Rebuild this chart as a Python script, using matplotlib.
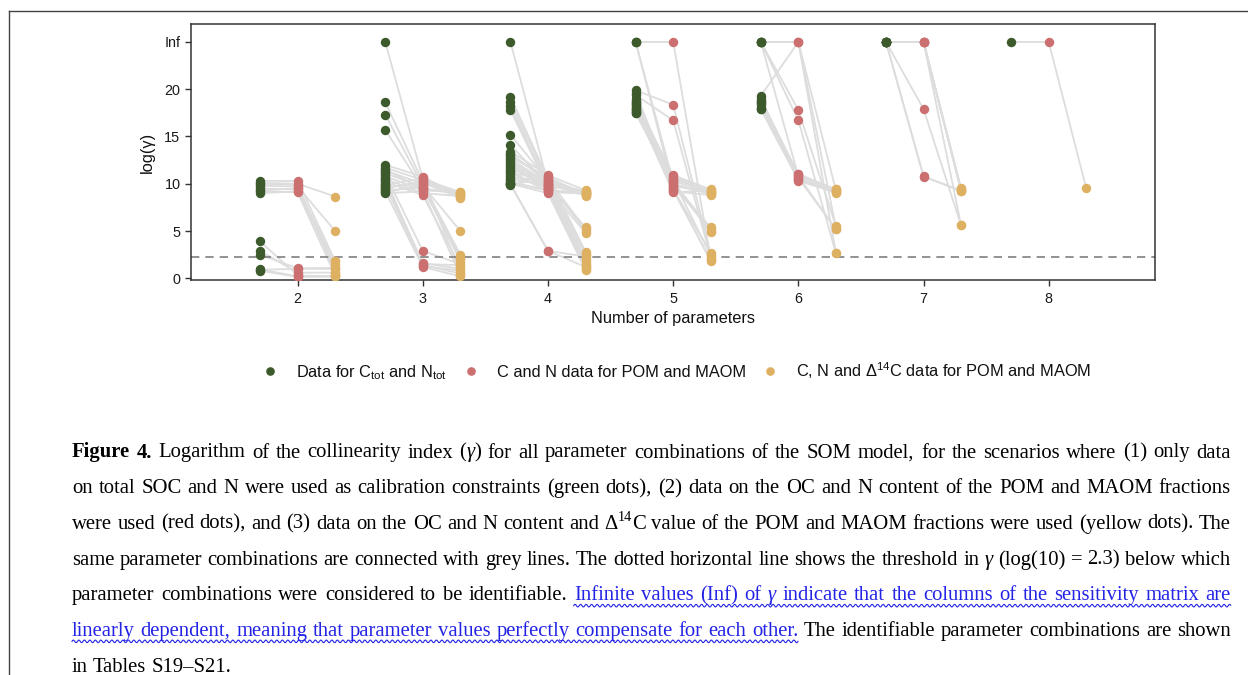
import matplotlib
matplotlib.use('Agg')
import matplotlib.pyplot as plt
import numpy as np
from matplotlib.lines import Line2D
from matplotlib.transforms import IdentityTransform

# ---------------- data (log(gamma); Inf shown at 25) ----------------
n_params = [2, 3, 4, 5, 6, 7, 8]
INF = 25

g2 = [10.3, 10.1, 9.8, 9.5, 9.2, 9.0, 10.0, 9.3, 3.9, 2.9, 2.5, 0.95, 0.8, 0.9]
r2 = [10.3, 10.0, 9.7, 9.4, 9.1, 9.2, 9.9, 9.5, 0.3, 0.6, 1.05, 0.2, 0.15, 1.0]
y2 = [1.8, 8.65, 5.0, 1.0, 0.3, 1.4, 0.6, 1.8, 0.2, 0.6, 1.1, 0.2, 0.2, 1.0]

g3 = [25, 18.6, 17.3, 15.7, 12.0, 11.7, 11.4, 11.1, 10.8, 10.5, 10.2, 9.9, 9.6, 9.3, 9.0, 11.0, 10.4, 9.8, 9.2, 10.0, 10.6, 9.5, 11.5, 9.1]
r3 = [10.5, 10.2, 9.8, 9.5, 10.75, 10.4, 10.0, 9.7, 9.3, 9.0, 8.8, 10.6, 10.1, 9.6, 9.2, 2.9, 1.6, 1.4, 1.2, 1.5, 1.3, 10.3, 9.4, 9.9]
y3 = [9.1, 8.8, 5.0, 9.0, 8.6, 8.9, 2.5, 1.8, 9.1, 8.7, 1.2, 0.6, 8.5, 2.0, 0.3, 1.5, 1.0, 0.5, 0.2, 1.4, 0.8, 8.8, 9.0, 2.2]

g4 = [25, 19.2, 18.7, 18.2, 17.8, 15.2, 14.1, 13.4, 13.0, 12.6, 12.2, 11.8, 11.4, 11.0, 10.6, 10.2, 9.9, 12.8, 12.0, 11.2, 10.4, 10.0, 13.2, 11.6, 10.8, 10.1, 9.95, 12.4, 10.0]
r4 = [10.0, 10.5, 10.2, 9.8, 9.6, 10.3, 9.9, 10.9, 10.6, 10.1, 9.7, 9.4, 9.1, 10.8, 10.4, 9.3, 2.9, 10.7, 9.5, 9.2, 10.0, 9.0, 10.2, 9.8, 9.6, 9.3, 10.5, 9.9, 2.9]
y4 = [9.2, 9.0, 8.8, 5.4, 2.5, 9.1, 8.9, 9.3, 8.7, 5.0, 2.0, 1.2, 9.0, 2.8, 1.5, 9.1, 2.3, 8.8, 4.8, 1.0, 9.2, 0.9, 2.6, 9.0, 1.8, 8.9, 5.2, 1.4, 1.2]

g5 = [25, 25, 25, 19.9, 19.4, 18.8, 18.3, 17.8, 17.5, 19.6, 18.6, 18.0, 17.6, 19.0, 18.4, 17.9, 17.7, 18.1, 18.5, 17.5]
r5 = [25, 10.2, 9.5, 18.35, 16.7, 10.9, 10.6, 10.3, 10.0, 9.7, 9.4, 9.1, 10.8, 10.1, 9.8, 9.3, 10.5, 9.2, 10.4, 9.9]
y5 = [2.0, 5.2, 1.8, 2.5, 2.2, 9.4, 9.2, 9.0, 8.9, 5.4, 2.7, 9.3, 9.1, 4.9, 9.0, 1.9, 9.2, 8.8, 2.4, 5.0]

g6 = [25, 25, 25, 25, 19.3, 18.8, 18.3, 17.9, 19.0, 18.5, 18.0, 17.9, 18.6, 25]
r6 = [25, 17.8, 16.7, 10.8, 25, 11.0, 10.7, 10.4, 10.9, 10.6, 10.5, 11.0, 10.3, 25]
y6 = [9.3, 5.5, 2.65, 5.2, 5.4, 9.4, 9.1, 9.2, 9.3, 5.2, 9.0, 9.4, 9.1, 2.7]

g7 = [25, 25, 25, 25, 25, 25, 25, 25]
r7 = [25, 25, 25, 25, 25, 17.9, 10.75, 10.8]
y7 = [9.4, 9.2, 5.6, 9.5, 9.3, 5.6, 9.3, 9.2]

g8 = [25]
r8 = [25]
y8 = [9.5]

threshold = 2.3
y_ticks = [0, 5, 10, 15, 20, 25]
y_ticklabels = ['0', '5', '10', '15', '20', 'Inf']
legend_labels = ['Data for C$_{\\mathrm{tot}}$ and N$_{\\mathrm{tot}}$',
                 'C and N data for POM and MAOM',
                 'C, N and \u0394$^{\\mathrm{14}}$C data for POM and MAOM']

groups = [(2, g2, r2, y2), (3, g3, r3, y3), (4, g4, r4, y4), (5, g5, r5, y5),
          (6, g6, r6, y6), (7, g7, r7, y7), (8, g8, r8, y8)]

# ---------------- style ----------------
plt.rcParams['font.family'] = ['Liberation Sans', 'DejaVu Sans']
plt.rcParams['mathtext.fontset'] = 'custom'
plt.rcParams['mathtext.rm'] = 'Liberation Sans'
plt.rcParams['mathtext.it'] = 'Liberation Sans:italic'
plt.rcParams['mathtext.bf'] = 'Liberation Sans:bold'

GREEN = '#3C5A2C'
RED = '#CB6F70'
YELLOW = '#DDB062'
LINEC = '#DDDDDD'
FRAME = '#333333'

W, H = 1248, 675
fig = plt.figure(figsize=(W / 100, H / 100), dpi=100)

ax = fig.add_axes([191 / W, 1 - 280 / H, (1155 - 191) / W, (280 - 24) / H])
ax.set_xlim(1.148, 8.849)
ax.set_ylim(-0.18, 26.9)

off = 0.3
for n, g, r, yv in groups:
    for a, b, c in zip(g, r, yv):
        ax.plot([n - off, n, n + off], [a, b, c], color=LINEC, lw=1.3, zorder=1,
                solid_capstyle='round')
ax.axhline(threshold, color='#7F7F7F', lw=1.2, ls=(0, (5.0, 3.6)), zorder=1.5)
for n, g, r, yv in groups:
    ax.scatter([n - off] * len(g), g, s=46, color=GREEN, zorder=3, linewidths=0)
    ax.scatter([n] * len(r), r, s=46, color=RED, zorder=3, linewidths=0)
    ax.scatter([n + off] * len(yv), yv, s=46, color=YELLOW, zorder=3, linewidths=0)

ax.set_xticks(n_params)
ax.set_xticklabels([str(v) for v in n_params])
ax.set_yticks(y_ticks)
ax.set_yticklabels(y_ticklabels)
for s in ax.spines.values():
    s.set_color(FRAME)
    s.set_linewidth(1.1)
ax.tick_params(axis='both', direction='out', length=4, width=1.0, color=FRAME,
               labelsize=10.4, labelcolor='#1a1a1a')
ax.tick_params(axis='y', pad=3.6)
ax.tick_params(axis='x', pad=4.5)
ax.set_xlabel('Number of parameters', fontsize=11.8, labelpad=4, color='#111111')
ax.set_ylabel('log(\u03b3)', fontsize=11.8, labelpad=7, color='#111111')

handles = [Line2D([], [], marker='o', ls='none', color=c, markersize=6.2, markeredgewidth=0)
           for c in (GREEN, RED, YELLOW)]
leg = ax.legend(handles, legend_labels, loc='center', ncol=3, frameon=False,
                bbox_to_anchor=(676.5 / W, 1 - 371 / H), bbox_transform=fig.transFigure,
                fontsize=11.8, handlelength=1.0, handletextpad=1.08, columnspacing=0.95,
                borderaxespad=0, borderpad=0)
for t in leg.get_texts():
    t.set_color('#111111')

# ---------------- outer page border ----------------
fig.add_artist(Line2D([9, 9], [0, H - 11], transform=IdentityTransform(), color='#444444', lw=1.0))
fig.add_artist(Line2D([9, W], [H - 11, H - 11], transform=IdentityTransform(), color='#444444', lw=1.0))

# ---------------- caption (justified serif text) ----------------
SERIF = 'Liberation Serif'
CAP_SIZE = 14.9
BLUE = '#2323E6'
caption_lines = [
    "*Figure* *4.* Logarithm of the collinearity index (\u03b3) for all parameter combinations of the SOM model, for the scenarios where (1) only data",
    "on total SOC and N were used as calibration constraints (green dots), (2) data on the OC and N content of the POM and MAOM fractions",
    "were used (red dots), and (3) data on the OC and N content and \u039414C value of the POM and MAOM fractions were used (yellow dots). The",
    "same parameter combinations are connected with grey lines. The dotted horizontal line shows the threshold in \u03b3 (log(10) = 2.3) below which",
    "parameter combinations were considered to be identifiable. {Infinite values (Inf) of \u03b3 indicate that the columns of the sensitivity matrix are}",
    "{linearly dependent, meaning that parameter values perfectly compensate for each other.} The identifiable parameter combinations are shown",
    "in Tables S19\u2013S21.",
]
X0, X1 = 72, 1231
BASE0, LSTEP = 457.5, 35.67

renderer = fig.canvas.get_renderer()


def seg_text(txt, bold, italic, blue, sup):
    t = fig.text(0, 0, txt, transform=IdentityTransform(), ha='left', va='baseline',
                 family=SERIF, size=CAP_SIZE * (0.68 if sup else 1.0),
                 weight='bold' if bold else 'normal', style='italic' if italic else 'normal',
                 color=BLUE if blue else 'black')
    w = t.get_window_extent(renderer).width
    return [t, w, sup]


def split_word(word):
    parts = []
    if '\u039414C' in word:
        a, b = word.split('\u039414C')
        if a:
            parts.append((a, False, False))
        parts += [('\u0394', False, False), ('14', False, True), ('C', False, False)]
        if b:
            parts.append((b, False, False))
        return parts
    if '\u03b3' in word:
        pieces = word.split('\u03b3')
        for i, p in enumerate(pieces):
            if p:
                parts.append((p, False, False))
            if i < len(pieces) - 1:
                parts.append(('\u03b3', True, False))
        return parts
    return [(word, False, False)]


tmp = fig.text(0, 0, 'n n', family=SERIF, size=CAP_SIZE, transform=IdentityTransform())
tmp2 = fig.text(0, 0, 'nn', family=SERIF, size=CAP_SIZE, transform=IdentityTransform())
space_w = tmp.get_window_extent(renderer).width - tmp2.get_window_extent(renderer).width
tmp.remove()
tmp2.remove()

blue_on = False
for li, line in enumerate(caption_lines):
    base_y = H - (BASE0 + LSTEP * li)
    words = []
    for raw in line.split(' '):
        w = raw
        end_blue = False
        if w.startswith('{'):
            blue_on = True
            w = w[1:]
        if w.endswith('}'):
            end_blue = True
            w = w[:-1]
        bold = False
        if w.startswith('*') and w.endswith('*') and len(w) > 1:
            bold = True
            w = w[1:-1]
        segs = []
        for txt, ital, sup in split_word(w):
            segs.append(seg_text(txt, bold, ital, blue_on, sup))
        words.append((segs, blue_on))
        if end_blue:
            blue_on = False
    widths = [sum(s[1] for s in segs) for segs, _ in words]
    last = (li == len(caption_lines) - 1)
    if last or len(words) < 2:
        gap = space_w
    else:
        gap = (X1 - X0 - sum(widths)) / (len(words) - 1)
    x = X0
    blue_spans = []
    for (segs, isblue), wd in zip(words, widths):
        sx = x
        for t, w_, sup in segs:
            dy = CAP_SIZE * 0.36 * 100 / 72 if sup else 0
            t.set_position((sx, base_y + dy))
            sx += w_
        if isblue:
            blue_spans.append((x, x + wd))
        x += wd + gap
    if blue_spans:
        xa, xb = blue_spans[0][0], blue_spans[-1][1]
        xs = np.arange(xa, xb, 0.5)
        ys = base_y - 5.5 + 1.3 * np.sin(2 * np.pi * (xs - xa) / 5.5)
        fig.add_artist(Line2D(xs, ys, transform=IdentityTransform(), color=BLUE, lw=0.8))

fig.savefig('out.png', dpi=100)
